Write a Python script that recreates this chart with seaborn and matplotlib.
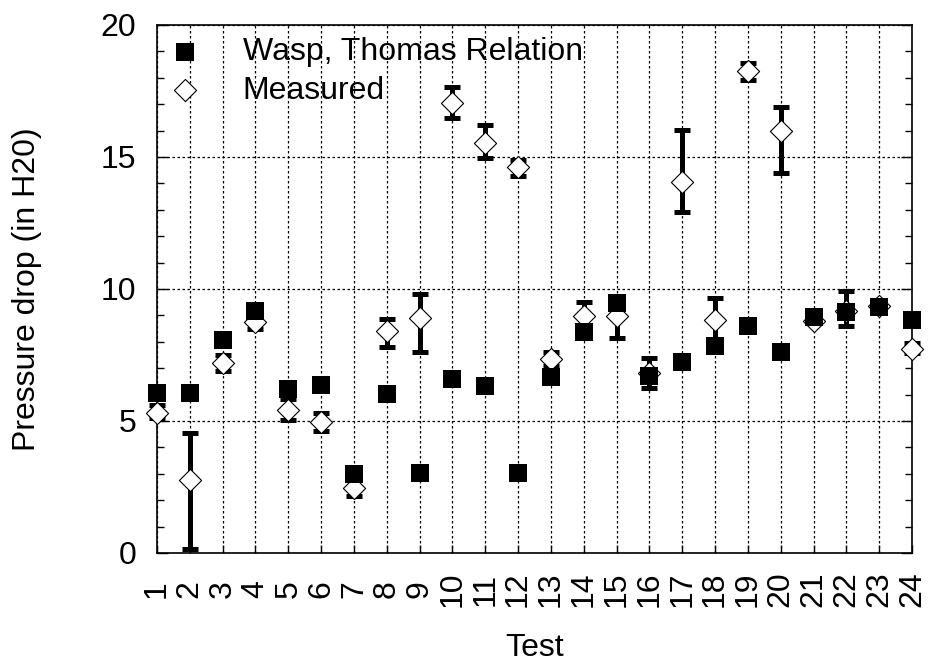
import matplotlib
matplotlib.use("Agg")
import matplotlib.pyplot as plt
import seaborn as sns
import pandas as pd
from matplotlib.ticker import MultipleLocator

tests = list(range(1, 25))
tick_labels = [str(t) for t in tests]
wasp = [6.07, 6.07, 8.07, 9.17, 6.2, 6.36, 2.99, 6.02, 3.02, 6.58, 6.33, 3.02,
        6.68, 8.38, 9.46, 6.70, 7.22, 7.84, 8.61, 7.63, 8.95, 9.14, 9.33, 8.83]
measured = [5.29, 2.77, 7.18, 8.76, 5.42, 4.97, 2.45, 8.41, 8.91, 17.06, 15.52, 14.63,
            7.34, 8.98, 8.98, 6.8, 14.07, 8.83, 18.26, 15.98, 8.79, 9.17, 9.36, 7.72]
err_low = [5.1, 0.14, 6.9, 8.48, 5.04, 4.63, 2.16, 7.81, 7.6, 16.49, 14.97, 14.29,
           7.1, 8.6, 8.16, 6.24, 12.9, 8.0, 17.9, 14.4, 8.7, 8.61, 9.2, 7.56]
err_high = [5.6, 4.56, 7.5, 9.0, 5.82, 5.29, 2.8, 8.85, 9.8, 17.66, 16.21, 14.89,
            7.6, 9.52, 9.6, 7.37, 16.02, 9.65, 18.55, 16.91, 9.0, 9.92, 9.5, 7.97]

sns.set_theme(style="ticks")
plt.rcParams['font.family'] = ['Liberation Sans', 'DejaVu Sans']
for k in ['text.color', 'axes.labelcolor', 'xtick.color', 'ytick.color', 'axes.edgecolor']:
    plt.rcParams[k] = 'black'

FS = 23

fig = plt.figure(figsize=(9.39, 6.65), dpi=100)
ax = fig.add_axes([157/939, 1 - 553/665, (912 - 157)/939, (553 - 25)/665])

df = pd.DataFrame({"test": tests, "wasp": wasp, "measured": measured,
                   "lo": err_low, "hi": err_high})

yerr = [[m - l for m, l in zip(measured, err_low)], [h - m for m, h in zip(measured, err_high)]]
ax.errorbar(tests, measured, yerr=yerr, fmt='none', ecolor='black', elinewidth=3.6,
            capsize=5.8, capthick=3.6, clip_on=False, zorder=3)

sns.scatterplot(data=df, x="test", y="measured", marker='D', s=11.3**2, facecolor='white',
                edgecolor='black', linewidth=0.8, ax=ax, zorder=4, clip_on=False,
                label="Measured")
sns.scatterplot(data=df, x="test", y="wasp", marker='s', s=12.5**2, color='black',
                edgecolor='black', linewidth=0, ax=ax, zorder=5, clip_on=False,
                label="Wasp, Thomas Relation")

ax.set_xlim(1, 24)
ax.set_ylim(0, 20)
ax.set_xticks(tests)
ax.set_xticklabels(tick_labels, rotation=90, fontsize=FS, va='center')
ax.yaxis.set_major_locator(MultipleLocator(5))
ax.yaxis.set_minor_locator(MultipleLocator(1))
ax.tick_params(axis='y', which='both', direction='in', right=True, labelsize=FS, pad=15)
ax.tick_params(axis='y', which='major', length=8, width=1)
ax.tick_params(axis='y', which='minor', length=5, width=1)
ax.tick_params(axis='x', direction='in', top=False, length=6, width=1, pad=26)
ax.grid(True, which='major', color='black', linestyle=(0, (2, 2)), linewidth=0.9)
for s in ax.spines.values():
    s.set_color('black')
    s.set_linewidth(1.2)

ax.set_xlabel("Test", fontsize=FS, labelpad=19)
ax.set_ylabel("Pressure drop (in H20)", fontsize=FS, labelpad=42)

handles, labels = ax.get_legend_handles_labels()
order = [labels.index("Wasp, Thomas Relation"), labels.index("Measured")]
ax.legend([handles[i] for i in order], [labels[i] for i in order], loc='upper left',
          frameon=False, fontsize=FS, handletextpad=1.3, borderaxespad=0.38,
          labelspacing=0.27, handlelength=1.0, borderpad=0.0)

fig.savefig("out.png", dpi=100)
